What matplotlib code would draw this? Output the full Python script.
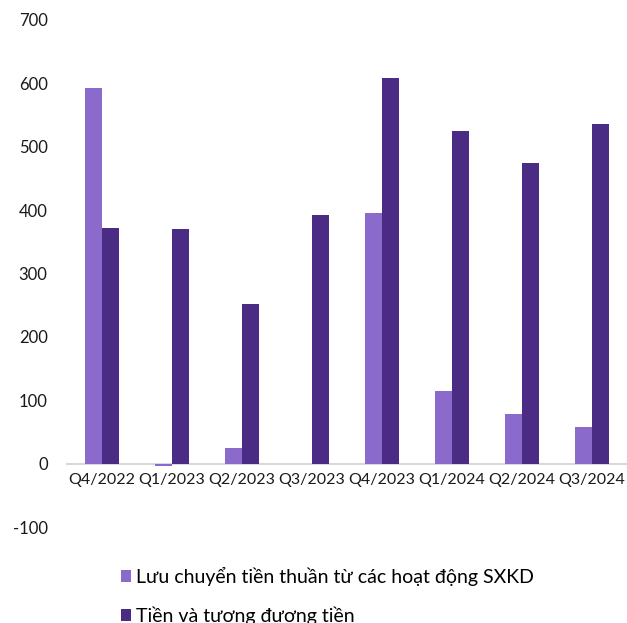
import numpy as np
import matplotlib.pyplot as plt

plt.rcParams["font.family"] = ["Lato", "DejaVu Sans"]
plt.rcParams["axes.unicode_minus"] = False

quarters = ["Q4/2022", "Q1/2023", "Q2/2023", "Q3/2023",
            "Q4/2023", "Q1/2024", "Q2/2024", "Q3/2024"]
operating_cf = [593, -3, 24, -1, 396, 115, 79, 58]
cash_equiv = [371, 370, 252, 393, 609, 525, 475, 536]
yticks = [-100, 0, 100, 200, 300, 400, 500, 600, 700]

LIGHT = "#8A6ACB"
DARK = "#4A2C84"

fig = plt.figure(figsize=(6.27, 6.23), dpi=100)
ax = fig.add_axes([0.107, 0.154, 0.893, 0.814])

x = np.arange(len(quarters))
w = 0.245
ax.bar(x - w / 2, operating_cf, width=w, color=LIGHT,
       label="Lưu chuyển tiền thuần từ các hoạt động SXKD")
ax.bar(x + w / 2, cash_equiv, width=w, color=DARK,
       label="Tiền và tương đương tiền")

ax.set_xlim(-0.5, len(quarters) - 0.5)
ax.set_ylim(-100, 700)
ax.set_yticks(yticks)
ax.set_xticks(x)
ax.set_xticklabels(quarters)

for side in ["top", "right", "left"]:
    ax.spines[side].set_visible(False)
ax.spines["bottom"].set_position(("data", 0))
ax.spines["bottom"].set_color("#D9D9D9")
ax.spines["bottom"].set_linewidth(1.5)
ax.spines["bottom"].set_zorder(0)

ax.tick_params(axis="both", length=0, labelsize=12, colors="#1a1a1a")
ax.tick_params(axis="y", pad=14)
ax.tick_params(axis="x", pad=7, labelsize=11.5)

fig.legend(loc="upper left", bbox_to_anchor=(0.193, 0.09),
           frameon=False, fontsize=14, handlelength=0.53,
           handleheight=0.53, handletextpad=0.25, labelspacing=1.05,
           borderaxespad=0, borderpad=0)

fig.savefig("out.png", dpi=100)
